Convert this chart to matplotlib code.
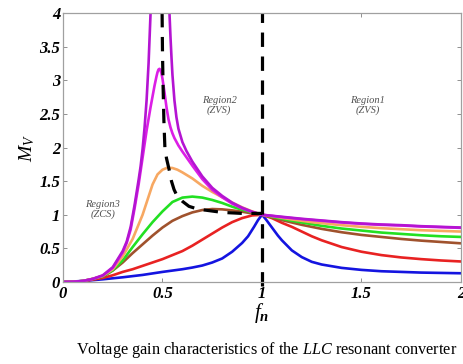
import matplotlib
matplotlib.use("Agg")
import matplotlib.pyplot as plt

plt.rcParams['font.family'] = ['Liberation Serif', 'DejaVu Serif']
plt.rcParams['mathtext.fontset'] = 'custom'
plt.rcParams['mathtext.rm'] = 'Liberation Serif'
plt.rcParams['mathtext.it'] = 'Liberation Serif:italic'
plt.rcParams['mathtext.bf'] = 'Liberation Serif:italic:bold'

# ---- data ----
grid_x = [0, .05, .1, .15, .2, .25, .3, .35, .4, .45, .5, .55, .6, .65, .7, .75, .8, .85, .9, .95,
          1.0, 1.05, 1.1, 1.15, 1.2, 1.25, 1.3, 1.4, 1.5, 1.6, 1.7, 1.8, 1.9, 2.0]

blue_x = [0, .1, .2, .3, .4, .5, .55, .6, .65, .7, .75, .8, .85, .9, .93, .96, .98, 1.0,
          1.02, 1.05, 1.08, 1.1, 1.15, 1.2, 1.25, 1.3, 1.4, 1.5, 1.6, 1.7, 1.8, 1.9, 2.0]
blue_y = [0, .015, .04, .07, .105, .15, .17, .19, .215, .245, .29, .35, .45, .58, .68, .82, .92, 1.0,
          .93, .81, .69, .62, .47, .37, .3, .26, .21, .18, .16, .15, .14, .135, .13]

red_y = [0, .003, .012, .035, .06, .1, .15, .19, .24, .29, .34, .4, .46, .54, .63, .72, .81, .89, .95, .99,
         1.0, .95, .88, .82, .75, .68, .62, .52, .45, .40, .365, .34, .32, .305]

brown_y = [0, .003, .015, .045, .08, .17, .29, .43, .56, .69, .81, .91, .98, 1.035, 1.07, 1.085, 1.08, 1.065, 1.045, 1.02,
           1.0, .96, .92, .885, .85, .82, .79, .74, .70, .67, .64, .615, .595, .575]

green_y = [0, .003, .015, .047, .085, .175, .32, .52, .71, .89, 1.05, 1.19, 1.255, 1.27, 1.255, 1.22, 1.175, 1.12, 1.075, 1.035,
           1.0, .97, .94, .91, .885, .86, .835, .795, .765, .735, .715, .695, .68, .67]

orange_x = [0, .05, .1, .15, .2, .25, .3, .35, .4, .45, .475, .5, .525, .55, .575, .6, .65, .7, .75, .8, .85, .9, .95,
            1.0, 1.05, 1.1, 1.15, 1.2, 1.25, 1.3, 1.4, 1.5, 1.6, 1.7, 1.8, 1.9, 2.0]
orange_y = [0, .003, .015, .048, .09, .19, .38, .64, 1.0, 1.45, 1.6, 1.67, 1.7, 1.695, 1.67, 1.63, 1.54, 1.43, 1.34, 1.26, 1.18, 1.11, 1.05,
            1.0, .98, .955, .93, .91, .89, .875, .845, .82, .8, .785, .77, .76, .75]

mag_inner_x = [0, .05, .1, .15, .2, .25, .3, .32, .34, .36, .38, .4, .42, .44, .46, .47, .475, .48, .485, .49, .495, .5, .51, .52, .53,
               .54, .55, .56, .58, .6, .65, .7, .75, .8, .85, .9, .95, 1.0,
               1.05, 1.1, 1.15, 1.2, 1.3, 1.4, 1.5, 1.6, 1.7, 1.8, 1.9, 2.0]
mag_inner_y = [0, .003, .015, .045, .095, .21, .44, .58, .78, 1.1, 1.45, 1.85, 2.25, 2.6, 2.92, 3.06, 3.12, 3.16, 3.17, 3.15, 3.1, 3.02, 2.82, 2.6, 2.42,
               2.3, 2.21, 2.14, 2.03, 1.94, 1.73, 1.53, 1.37, 1.26, 1.165, 1.095, 1.04, 1.0,
               .983, .965, .95, .935, .91, .885, .865, .85, .84, .825, .815, .805]

mag_outer_x = [0, .05, .1, .15, .2, .25, .3, .32, .34, .36, .38, .39, .4, .41, .42, .43, .44, .45,
               .525, .53, .535, .54, .545, .55, .56, .57, .58, .6, .62, .65, .7, .75, .8, .85, .9, .95, 1.0,
               1.05, 1.1, 1.15, 1.2, 1.3, 1.4, 1.5, 1.6, 1.7, 1.8, 1.9, 2.0]
mag_outer_y = [0, .003, .015, .047, .1, .22, .46, .6, .82, 1.15, 1.52, 1.72, 1.98, 2.3, 2.7, 3.25, 4.0, 4.8,
               4.8, 4.4, 4.0, 3.65, 3.35, 3.08, 2.7, 2.45, 2.28, 2.08, 1.95, 1.79, 1.57, 1.4, 1.28, 1.18, 1.105, 1.045, 1.0,
               .985, .97, .955, .94, .915, .89, .87, .855, .845, .83, .82, .81]

locus_x = [.498, .5, .503, .507, .512, .52, .533, .545, .558, .57, .583, .6, .633, .66, .7, .75, .8, .9, 1.0]
locus_y = [4.0, 3.4, 2.9, 2.4, 2.0, 1.84, 1.675, 1.5, 1.375, 1.3, 1.25, 1.2, 1.125, 1.1, 1.075, 1.055, 1.035, 1.02, 1.02]

fn_line_x = [1.0, 1.0]
fn_line_y = [-0.06, 4.0]

x_ticks = [0, 0.5, 1, 1.5, 2]
x_ticklabels = ['0', '0.5', '1', '1.5', '2']
y_ticks = [0, 0.5, 1, 1.5, 2, 2.5, 3, 3.5, 4]
y_ticklabels = ['0', '0.5', '1', '1.5', '2', '2.5', '3', '3.5', '4']

# ---- figure ----
fig = plt.figure(figsize=(4.64, 3.64), dpi=100)
ax = fig.add_axes([63/464, (364-282)/364, (461-63)/464, (282-13)/364])

lw = 1.9
ax.plot(blue_x, blue_y, color='#1414e0', lw=lw)
ax.plot(grid_x, red_y, color='#e82222', lw=lw)
ax.plot(grid_x, brown_y, color='#a0522d', lw=lw)
ax.plot(grid_x, green_y, color='#22e022', lw=lw)
ax.plot(orange_x, orange_y, color='#f7a862', lw=lw)
ax.plot(mag_inner_x, mag_inner_y, color='#dc1ee6', lw=lw)
ax.plot(mag_outer_x, mag_outer_y, color='#b414d2', lw=lw)

dash = (4.5, 3)
ax.plot(locus_x, locus_y, color='black', lw=2.3, dashes=dash)
ax.plot(fn_line_x, fn_line_y, color='black', lw=2.3, dashes=dash, clip_on=False)

ax.set_xlim(0, 2)
ax.set_ylim(0, 4)
ax.set_xticks(x_ticks)
ax.set_xticklabels(x_ticklabels)
ax.set_yticks(y_ticks)
ax.set_yticklabels(y_ticklabels)

for s in ax.spines.values():
    s.set_color('#a0a0a0')
    s.set_linewidth(0.9)

ax.tick_params(direction='in', length=3, width=0.7, color='#909090',
               top=True, right=True, labelsize=12)
ax.tick_params(axis='x', pad=3)
ax.tick_params(axis='y', pad=2)
for lab in ax.get_xticklabels() + ax.get_yticklabels():
    lab.set_fontweight('bold')
    lab.set_fontstyle('italic')

ax.set_ylabel(r'$M_V$', fontsize=14, labelpad=2)
ax.text(1.0, -0.115, r'$f_{\mathbf{n}}$', transform=ax.get_xaxis_transform(),
        ha='center', va='center', fontsize=15)

rc = '#505050'
ax.text(0.785, 2.62, 'Region2\n(ZVS)', ha='center', va='center', fontsize=7.5,
        style='italic', color=rc, linespacing=1.1)
ax.text(1.53, 2.62, 'Region1\n(ZVS)', ha='center', va='center', fontsize=7.5,
        style='italic', color=rc, linespacing=1.1)
ax.text(0.2, 1.08, 'Region3\n(ZCS)', ha='center', va='center', fontsize=7.5,
        style='italic', color=rc, linespacing=1.1)

fig.text(267/464, (364-350)/364,
         r'Voltage gain characteristics of the $\mathit{LLC}$ resonant converter',
         ha='center', va='center', fontsize=11.7)

fig.savefig('out.png', dpi=100)
